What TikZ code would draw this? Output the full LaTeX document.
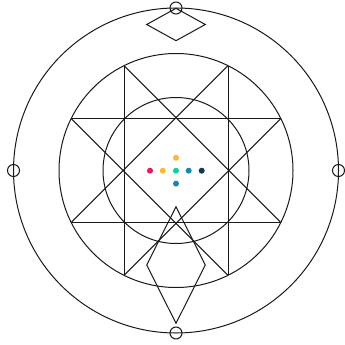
\documentclass[tikz,border=0pt]{standalone}
\usetikzlibrary{calc}
\definecolor{cred}{HTML}{E91B55}
\definecolor{cyel}{HTML}{FBB836}
\definecolor{cgrn}{HTML}{0BD39D}
\definecolor{cblu}{HTML}{1487B8}
\definecolor{cnav}{HTML}{0A3B4E}
\begin{document}
\begin{tikzpicture}[x=1pt,y=-1pt,
  ln/.style={draw=black!90, line width=1pt},
  port/.style={circle, draw=black!90, line width=1pt, minimum size=12pt, inner sep=0pt},
  dot/.style={circle, fill=#1, minimum size=6pt, inner sep=0pt}]
\useasboundingbox (0,0) rectangle (345,345);
\coordinate (C) at (176,170.5);
% circles
\draw[ln] (C) circle (162.5);
\draw[ln] (C) circle (117);
\draw[ln] (C) circle (73);
% chord end points on middle circle
\coordinate (tl) at (124,65.7);
\coordinate (tr) at (228,65.7);
\coordinate (bl) at (124,275.3);
\coordinate (br) at (228,275.3);
\coordinate (lt) at (71.2,118.5);
\coordinate (lb) at (71.2,222.5);
\coordinate (rt) at (280.8,118.5);
\coordinate (rb) at (280.8,222.5);
\draw[ln] (tl) -- (bl);
\draw[ln] (tr) -- (br);
\draw[ln] (lt) -- (rt);
\draw[ln] (lb) -- (rb);
\draw[ln] (tl) -- (rb);
\draw[ln] (tr) -- (lb);
\draw[ln] (lt) -- (br);
\draw[ln] (rt) -- (bl);
% top rhombus
\coordinate (dT) at (176,8.3);
\coordinate (dL) at (146.7,24.5);
\coordinate (dB) at (176,40.7);
\coordinate (dR) at (205.3,24.5);
\draw[ln] (dT) -- (dR) -- (dB) -- (dL) -- cycle;
% bottom rhombus
\coordinate (kT) at (176,206.7);
\coordinate (kL) at (146.7,265);
\coordinate (kB) at (176,323.3);
\coordinate (kR) at (205.3,265);
\draw[ln] (kT) -- (kR) -- (kB) -- (kL) -- cycle;
% ports
\node[port] (pT) at (176,8) {};
\node[port] (pB) at (176,333) {};
\node[port] (pL) at (13.5,170.5) {};
\node[port] (pR) at (338.5,170.5) {};
% dots
\node[dot=cred] (d1) at (150,170.7) {};
\node[dot=cyel] (d2) at (162.8,170.7) {};
\node[dot=cgrn] (d3) at (176,170.7) {};
\node[dot=cblu] (d4) at (188.7,170.7) {};
\node[dot=cnav] (d5) at (201.7,170.7) {};
\node[dot=cyel] (d6) at (176,157.8) {};
\node[dot=cblu] (d7) at (176,183.6) {};
\end{tikzpicture}
\end{document}
